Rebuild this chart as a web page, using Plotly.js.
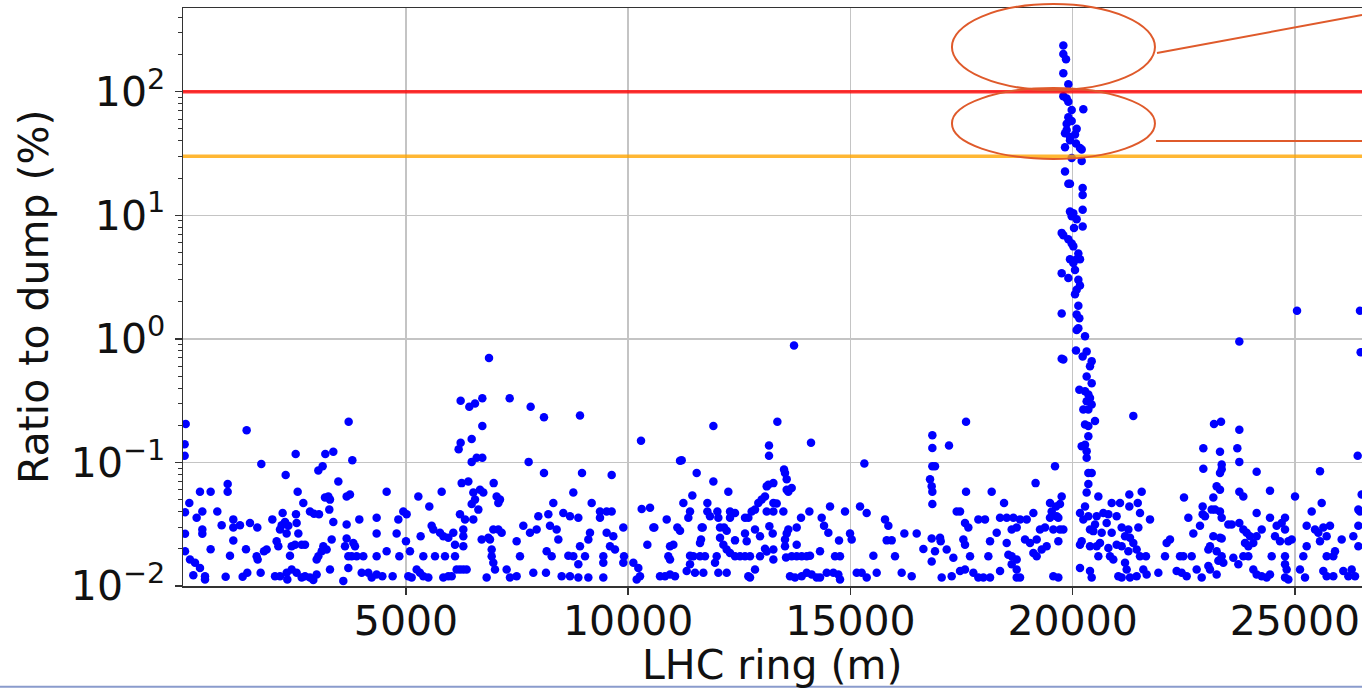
<!DOCTYPE html>
<html>
<head>
<meta charset="utf-8">
<script src="https://cdn.plot.ly/plotly-3.0.1.min.js"></script>
<style>html,body{margin:0;padding:0;background:#fff;}#chart{width:1362px;height:688px;}</style>
</head>
<body>
<div id="chart"></div>
<script>
// ---- data: [position along the LHC ring (m), ratio to dump (%)] ----
const sectorA = [[43,.205],[20,.14],[20,.113],[125,.047],[28,.0395],[28,.0265],[28,.0191],[140,.0164],[253,.0154],[365,.014],[215,.0122],
[365,.058],[605,.058],[418,.040],[290,.0356],[418,.0286],[418,.0265],[605,.0198],[478,.012],[478,.0113],
[755,.040],[853,.031],[988,.067],[988,.058],[1115,.0346],[1115,.0297],[1115,.0233],[1040,.0176],[943,.0119],
[1265,.031],[1415,.182],[1490,.0324],[1655,.0297],[1400,.0198],[1325,.0119],[1430,.0128],[1730,.0128],[1745,.097],[1640,.0174],[1865,.0197],[1663,.0164],[1805,.0191],
[1993,.0346],[2090,.023],[2165,.0286],[2203,.031],[2278,.033],[2225,.039],[2353,.0307],[2315,.0266],[2293,.079],[2518,.117],[2128,.021],[2390,.0176],[2428,.021],[2540,.0324],[2578,.0266],[2525,.038],[2563,.058],[2690,.047],[2503,.0216],[2653,.0216],[2728,.0216],
[2053,.012],[2165,.012],[2315,.0128],[2330,.0113],[2428,.0136],[2540,.0128],[2653,.0117],[2728,.012],
[2840,.0117],[2915,.0112],[2990,.0124],[2840,.040],[2930,.0385],[3043,.038],[3028,.086],[3125,.093],[3185,.117],[3365,.122],[2990,.0164],[3028,.0174],[3103,.0191],[3140,.021],[3215,.0197],[3290,.0136],[3328,.0238],[3365,.033],[3253,.053],[3290,.050],[3178,.052],[3275,.0415],[3478,.070],
[3710,.213],[3793,.104],[3665,.053],[3740,.055],[3665,.0315],[3665,.0242],[3628,.021],[3815,.0223],[3853,.021],[3703,.0174],[3778,.0174],[3890,.0174],[3703,.014],[3590,.011],[3950,.0346],[4040,.0174],[4003,.0128],[4153,.0128],[4228,.0117],[4340,.0124],[4340,.0356],[4340,.0266],[4340,.0174],
[4565,.0191],[4565,.058],[4468,.012],[4700,.012],[4828,.0346],[4790,.0266],[4850,.0174],[4940,.040],[5015,.038],[5000,.023],[5090,.0191],[5053,.012],
[5128,.0117],[5240,.0136],[5315,.0128],[5390,.012],[5503,.0117],[5278,.053],[5525,.044],[5330,.0253],[5390,.0174],[5578,.0307],[5615,.0286],[5653,.0174],
[5803,.058],[5765,.027],[5840,.0253],[5878,.0174],[5840,.0117],[5953,.012],[6028,.012],[6065,.027],[5953,.0246],[6103,.0216],[6103,.0174],[6140,.0136],[6185,.128],[6230,.144],[6230,.315],
[6215,.0136],[6290,.0136],[6365,.0136],[6290,.021],[6290,.0253],[6290,.0286],[6215,.038],[6328,.0346],[6515,.0346],[6253,.068],[6403,.070],[6515,.057],[6553,.050],[6665,.060],[6478,.046],[6628,.0415],[6740,.057],[6425,.282],[6553,.30],[6718,.33],[6718,.197],[6478,.155],[6478,.101],[6590,.109],[6718,.109],[6868,.70],[6703,.0238],[6853,.0246],[6890,.0238],
[6965,.0286],[7078,.0286],[7153,.027],[6928,.0197],[6928,.0174],[6965,.0154],[7003,.0136],[6815,.0117],[6973,.068],[7040,.053],[7115,.050],[7078,.047],[7265,.0136],[7340,.0117],[7490,.012],[7565,.0174],[7490,.023],[7640,.0307],[7333,.33],
[7790,.027],[7940,.0286],[7865,.0128],[7978,.0367],[8203,.038],[8240,.0307],[8390,.0286],[8428,.0238],[8165,.0191],[8278,.0174],[8150,.0128],[8315,.047],[7805,.282],[7760,.101],[8105,.232],[8105,.082],
[8540,.039],[8690,.0367],[8878,.0356],[8765,.057],[8653,.0176],[8765,.0174],[8878,.015],[8915,.021],[9028,.0174],[9140,.027],[9103,.0238],[8503,.012],[8690,.012],[8878,.0117],[9103,.0117],[8915,.24],[8960,.082],
[9178,.047],[9365,.040],[9515,.040],[9628,.040],[9365,.0356],[9515,.027],[9590,.021],[9703,.0197],[9665,.0253],[9440,.0174],[9440,.0154],[9440,.0117],[9628,.079],[9890,.0297],[9905,.0174],[9890,.0154]];

const sectorB = [[13731,.885],[10288,.150],[11916,.197],[13356,.213],[13168,.137],[13168,.113],[14113,.144],
[11166,.103],[11203,.104],[11541,.082],[11916,.070],[12253,.058],[11443,.054],[11241,.047],[11781,.047],
[10303,.042],[10491,.043],[10866,.0346],[10588,.0297],[11106,.0297],[11166,.028],[11391,.040],[11353,.0356],[11676,.0297],[11781,.040],[11841,.0367],[12006,.040],[12028,.0356],[12066,.0297],[12156,.0297],[12291,.040],[12403,.039],[12291,.0356],
[12628,.0356],[12703,.0356],[12778,.040],[12853,.0415],[12928,.047],[13003,.050],[13078,.053],[13116,.064],[13153,.066],[13266,.068],[13266,.047],[13341,.0465],[13116,.040],[13266,.040],[13491,.040],
[13506,.0875],[13528,.082],[13566,.073],[13566,.060],[13678,.062],[13603,.058],[14076,.040],[13888,.0356],[13791,.0297],[13603,.0286],[13566,.0266],[13528,.0238],[13528,.021],[13791,.0216],[13251,.0266],[13176,.0305],[12966,.0253],[12853,.0286],
[12628,.0266],[12666,.023],[12403,.0234],[12216,.028],[12066,.0246],[12141,.0216],[12216,.0197],[12291,.0185],[12403,.0174],[12516,.0174],[12628,.0174],[12741,.0174],[12966,.0174],[13078,.020],[13116,.019],[13266,.0164],[13266,.0197],
[13551,.0170],[13678,.0174],[13791,.0174],[13903,.0174],[14016,.0174],[14091,.0176],[11616,.0223],[11653,.0297],[11638,.0238],[11391,.0176],[11466,.0174],[11616,.0174],[11728,.0174],[11391,.015],[11316,.0132],[11503,.0128],[11691,.0128],
[11991,.0174],[11953,.0154],[12028,.0128],[12216,.0128],[10941,.021],[11016,.0216],[10903,.0174],[10941,.0164],[10431,.0216],[10566,.0297],[10716,.012],[10828,.012],[10941,.0124],[11053,.012],[10116,.0154],[10228,.014],[10266,.012],[10191,.0113],
[12703,.012],[12741,.0117],[12853,.0136],[13641,.012],[13753,.0117],[13903,.012],[14016,.0128],[14128,.0124],[14241,.0117],[14316,.0117],[14466,.0128],[14616,.0128],[14728,.0124],[14766,.0113],
[14316,.0191],[14353,.0356],[14406,.0307],[14503,.027],[14541,.044],[14653,.0174],[14766,.0174],[14743,.0233],[14878,.040],[14991,.0266],[15028,.0238],[15216,.044],[15366,.039],[15313,.098],[15141,.0128],[15253,.0128],[15366,.0117],[15591,.0128],[15516,.0176],
[15778,.0346],[15853,.0307],[15816,.0234],[15928,.0234],[16003,.0174],[16213,.0266],[16491,.0266],[16153,.0128],[16378,.012],[16641,.0199],
[16843,.166],[16843,.131],[16843,.093],[16903,.093],[16791,.073],[16828,.064],[16843,.058],[16843,.046],[17218,.137],[17601,.213],
[16828,.0242],[17016,.0246],[17031,.023],[16903,.0191],[16828,.0158],[17166,.0197],[17316,.0169],[17053,.0117],[17278,.012],[17466,.0132],[17578,.0136],
[17601,.058],[17391,.040],[17466,.040],[17578,.0324],[17653,.0297],[17541,.0238],[17578,.0216],[17691,.0174],[17878,.0346],[18028,.0346],[18178,.058],
[17766,.0128],[17878,.0117],[17991,.0117],[18141,.0117],[18366,.0132],[18141,.023],[18103,.0174],[18291,.027],[18456,.047],
[18366,.0356],[18516,.0356],[18666,.0356],[18816,.0346],[18966,.0346],[19116,.039],[18516,.0223],[18628,.0286],[18741,.0297],[18928,.0238],[19041,.0223],[19191,.0238],
[18553,.0179],[18628,.0174],[18741,.0164],[19116,.0185],[19191,.0174],[18628,.015],[18741,.0136],[18741,.0117],[18816,.0117],[19166,.068]];

const sectorPeak = [[19753,.69],[19790,.68],[19603,.093],[19753,.053],[19490,.047],[19625,.044],[19715,.046],[19528,.040],[19640,.0367],[19490,.0356],[19678,.0356],[19378,.0297],[19565,.0286],[19715,.0286],[19790,.0286],[19678,.023],[19415,.021],[19265,.0286],[19303,.0197],[19565,.012],[19678,.0117],
[20075,.806],[20225,.72],[20315,.79],[20428,.66],[20390,.60],[20315,.496],[20428,.438],[20150,.388],[20278,.376],[20353,.354],[20390,.332],[20315,.313],[20428,.294],[20240,.268],[20353,.268],[20503,.216],[20278,.203],[20353,.197],[20353,.163],[20203,.135],[20278,.139],[20315,.123],[20315,.109],[20353,.082],[20428,.082],[20353,.067],[20315,.057],[20278,.044],[20165,.039],[20353,.0367],[20240,.0346],[20390,.0286],[20203,.023],[20165,.0216],[20465,.0278],[20503,.0315],[20540,.0367],[20578,.053],[20390,.021],[20540,.021],[20578,.0174],[20165,.014],[20390,.0132],[20428,.0117],
[19790,236],[19790,202],[19850,183],[19790,141],[19903,115],[19790,92],[19865,88],[19903,83],[19978,71],[20240,72],[19903,62],[19978,58],[19865,55],[20090,50],[19865,49],[19828,46],[20053,45],[19940,43],[19940,40.5],[20075,38],[20203,34],[20165,35],[19828,35.5],[19978,29],[20203,27.5],[19828,22.6],[19903,18],[19940,18],[20225,16.6],[20225,14.6],[19940,10.7],[20015,10.4],[19978,9.8],[20225,11.1],[20090,9.3],[20030,7.9],[20225,8.1],[19753,7.2],[19790,6.9],[19903,6.4],[19978,5.9],[20015,5.6],[20128,4.9],[20165,4.4],[20090,4.4],[19940,4.4],[20015,4.1],[20053,3.6],[19753,3.4],[19903,3.1],[20128,3.0],[20165,2.7],[20090,2.5],[20053,2.3],[20128,1.85],[19753,1.6],[20090,1.57],[20150,1.47],[20128,1.22],[20278,1.05],[20090,1.18]];

const sectorD = [[21365,.238],[20878,.047],[21065,.047],[21275,.055],[21553,.058],[21465,.047],[21275,.044],[20690,.039],[20803,.038],[20765,.0324],
[20990,.0367],[21103,.0297],[21253,.0286],[21178,.0253],[21290,.0246],[21515,.039],[21740,.0346],[21478,.0297],[20653,.027],[20878,.027],[20615,.0223],[20803,.0203],[20990,.0216],
[20840,.0174],[20915,.0164],[21103,.021],[21253,.0191],[21365,.0223],[21440,.0197],[21515,.0174],[21650,.0174],
[21178,.0154],[21215,.0136],[21440,.012],[21590,.0136],[21665,.0124],[21028,.012],[21103,.0117],[21290,.0117],
[21928,.0128],[22115,.0223],[22190,.0238],[22078,.0174],[22415,.0174],[22490,.0174],[22678,.0174],[22505,.052],[22603,.0356],[22715,.0266],
[22340,.0132],[22453,.0128],[22565,.012],[22790,.0136],[22903,.0117],[22925,.044],[22925,.038],[22865,.0307],[22978,.0367],[23053,.0197],[23090,.021],[23165,.0253],[23053,.0145],
[22940,.13],[22940,.089],[23180,.205],[23338,.213],[23315,.122],[23353,.096],[23353,.088],[23315,.082],[23240,.064],[23315,.060],[23165,.052],[23128,.0415],[23203,.0415],[23315,.040],[23353,.0356],[23503,.0315],[23578,.0315],[23315,.0246],[23353,.0242],[23240,.0191],[23353,.0174],[23278,.016],[23390,.0154],[23090,.0136],[23240,.0124],
[23750,.95],[23750,.184],[23705,.13],[23750,.101],[23750,.058],[23840,.053],[23615,.0169],[23728,.015],[23840,.0174],[23953,.0174],
[23750,.0324],[23840,.0286],[23915,.027],[23990,.0253],[23878,.0223],[23953,.021],[24065,.0223],[24140,.0253],[24140,.084],[24140,.039],[24440,.059],[24253,.0286],
[24065,.0136],[24140,.0124],[24253,.012],[24365,.0117],[24440,.0124],[24440,.0356],[24590,.0307],[24703,.0324],[24778,.0356],[24778,.0286],[24553,.0253],[24665,.023],[24853,.023],[24928,.0238],[24478,.0174],[24778,.0174],[24778,.015],[24815,.0136],[24778,.0117],[24853,.0113],[25003,.053],
[25115,.0136],[25228,.0117],[25190,.0174],[25265,.021],[25265,.0307],[25378,.040],[25453,.0286],[25528,.027],[25603,.047],[25565,.023],[25640,.0297],[25715,.0253],[25790,.0307],[25715,.0174],[25865,.0174],[25903,.0191],[25640,.0132],[25715,.012],[25865,.012],[26053,.0238],[26090,.0132],[26203,.012],[26278,.0136],[26353,.012],[26315,.0253],[26428,.0415],[26465,.040],[26428,.021],[26428,.0307],[26503,.055],[25565,.085],[26413,.113],[26480,.78],[25048,1.69],[26465,1.69]];

const dumpThreshold = 100;   // red line (%)
const warnThreshold = 30;    // orange line (%)

const xTickVals = [5000, 10000, 15000, 20000, 25000];
const xTickText = ['5000', '10000', '15000', '20000', '25000'];
const yTickVals = [0.01, 0.1, 1, 10, 100];
const yTickText = ['10<sup>\u22122</sup>', '10<sup>\u22121</sup>', '10<sup>0</sup>', '10<sup>1</sup>', '10<sup>2</sup>'];

// ---- build ----
const allPts = sectorA.concat(sectorB, sectorPeak, sectorD);
const xs = allPts.map(p => p[0]);
const ys = allPts.map(p => p[1]);

const minorY = [];
for (let e = -2; e <= 2; e++) for (let m = 2; m <= 9; m++) { const v = m * Math.pow(10, e); if (v < 470) minorY.push(v); }

const ORANGE_RED = '#df5a2b';
const trace = {
  type: 'scatter', mode: 'markers', x: xs, y: ys,
  marker: { color: '#0000ff', size: 8.5, line: { width: 0 } },
  hoverinfo: 'x+y'
};

const layout = {
  width: 1362, height: 688,
  margin: { l: 183, r: 0, t: 8, b: 102, pad: 0 },
  paper_bgcolor: '#ffffff', plot_bgcolor: '#ffffff',
  font: { family: 'DejaVu Sans, sans-serif', size: 41, color: '#111' },
  showlegend: false,
  xaxis: {
    range: [-17, 26510], tickmode: 'array', tickvals: xTickVals, ticktext: xTickText,
    ticks: 'outside', ticklen: 7, tickwidth: 1.5, tickcolor: '#333',
    showline: true, linecolor: '#333', linewidth: 1.5, mirror: true,
    showgrid: true, gridcolor: '#c4c4c4', gridwidth: 1.5, zeroline: false,
    ticklabelstandoff: -9,
    tickfont: { size: 41, color: '#111' }
  },
  yaxis: {
    type: 'log', range: [-2, 2.677], tickmode: 'array', tickvals: yTickVals, ticktext: yTickText,
    ticks: 'outside', ticklen: 7, tickwidth: 1.5, tickcolor: '#333',
    showline: true, linecolor: '#333', linewidth: 1.5,
    showgrid: true, gridcolor: '#c4c4c4', gridwidth: 1.5, zeroline: false,
    ticklabelstandoff: 1,
    tickfont: { size: 41, color: '#111' },
    minor: { tickmode: 'array', tickvals: minorY, ticks: 'outside', ticklen: 4, tickwidth: 1, tickcolor: '#333', showgrid: false }
  },
  annotations: [
    { text: 'LHC ring (m)', xref: 'paper', yref: 'paper', x: 0.5, y: -0.136, xanchor: 'center', yanchor: 'middle',
      showarrow: false, font: { size: 41, color: '#111' } },
    { text: 'Ratio to dump (%)', xref: 'paper', yref: 'paper', x: -0.1264, y: 0.5, xanchor: 'center', yanchor: 'middle',
      textangle: -90, showarrow: false, font: { size: 41, color: '#111' } }
  ],
  shapes: [
    { type: 'line', xref: 'paper', x0: 0, x1: 1, yref: 'y', y0: dumpThreshold, y1: dumpThreshold,
      line: { color: 'rgba(255,0,0,0.8)', width: 3.5 } },
    { type: 'line', xref: 'paper', x0: 0, x1: 1, yref: 'y', y0: warnThreshold, y1: warnThreshold,
      line: { color: 'rgba(255,165,0,0.8)', width: 3.5 } },
    { type: 'circle', xref: 'paper', yref: 'paper', x0: 0.6522, x1: 0.8244, y0: 0.8581, y1: 1.0069,
      line: { color: ORANGE_RED, width: 2 } },
    { type: 'circle', xref: 'paper', yref: 'paper', x0: 0.6522, x1: 0.8244, y0: 0.7388, y1: 0.8616,
      line: { color: ORANGE_RED, width: 2 } },
    { type: 'line', xref: 'paper', yref: 'paper', x0: 0.8261, y0: 0.9221, x1: 1.0, y1: 0.9879,
      line: { color: ORANGE_RED, width: 2 } },
    { type: 'line', xref: 'paper', yref: 'paper', x0: 0.8253, y0: 0.7699, x1: 1.0, y1: 0.7699,
      line: { color: ORANGE_RED, width: 2 } },
    { type: 'line', xref: 'paper', yref: 'paper', x0: -0.2, y0: -0.1742, x1: 1.0, y1: -0.1742,
      line: { color: '#8a9bcc', width: 2 } }
  ]
};

Plotly.newPlot('chart', [trace], layout, { displayModeBar: false, staticPlot: true });
</script>
</body>
</html>
